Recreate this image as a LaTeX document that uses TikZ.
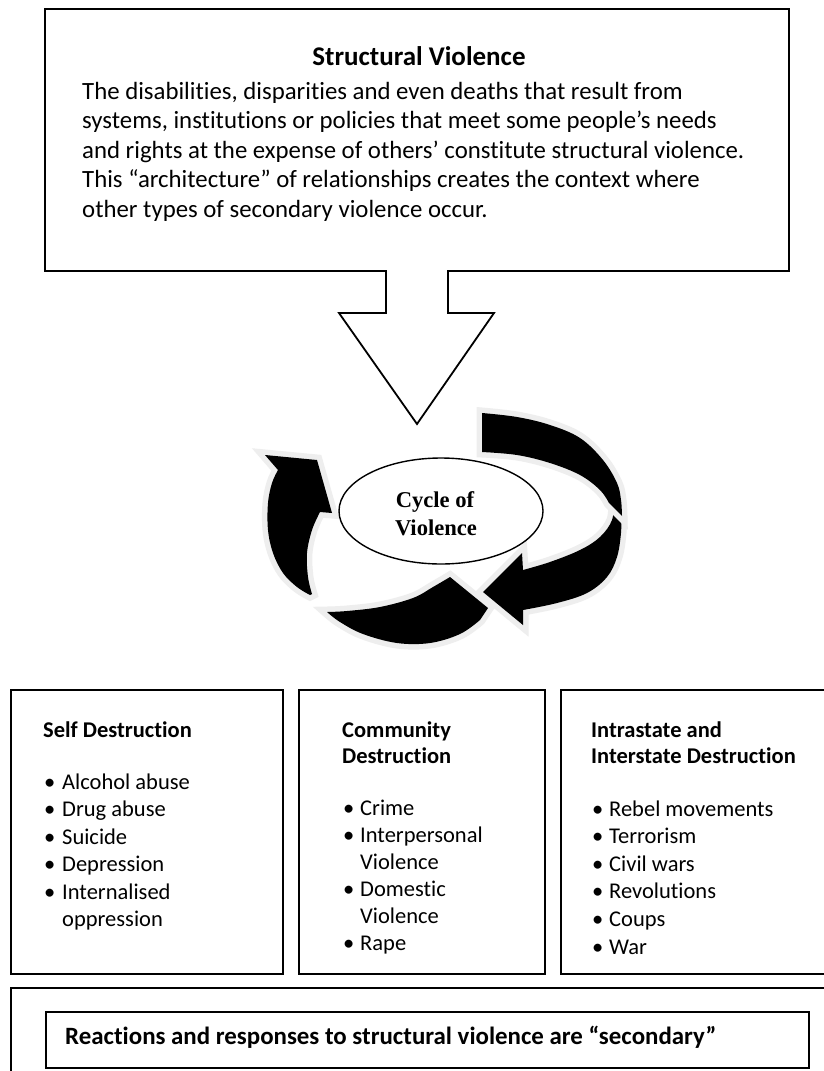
\documentclass[tikz,border=0pt]{standalone}
\usepackage{fontspec}
\setmainfont{Carlito}[Ligatures=NoCommon]
\newfontfamily\tnr{Liberation Serif}
\usetikzlibrary{shapes.geometric}
\definecolor{rim}{RGB}{238,238,238}

\tikzset{
  frame/.style={draw=black, line width=2pt},
  callout/.style={draw=black, line width=1.8pt, line join=miter},
  arrowpart/.style={preaction={draw=rim, line width=11pt, line join=miter, miter limit=4}, fill=black},
  hubnode/.style={ellipse, draw=black, fill=white, line width=1.4pt,
                  minimum width=204pt, minimum height=106pt, inner sep=0pt},
  bodytext/.style={anchor=base west, inner sep=0pt, font=\fontsize{24.8}{29.5}\selectfont},
  headtext/.style={anchor=base, inner sep=0pt, font=\fontsize{27}{32}\selectfont\bfseries},
  boxtitle/.style={anchor=base west, inner sep=0pt, font=\fontsize{22.5}{27}\selectfont\bfseries},
  item/.style={anchor=base west, inner sep=0pt, font=\fontsize{22.5}{27}\selectfont},
  notetext/.style={anchor=base west, inner sep=0pt, font=\fontsize{24.9}{30}\selectfont\bfseries},
  hubtext/.style={anchor=base, inner sep=0pt, font=\fontsize{22.6}{28}\selectfont\tnr\bfseries},
}

\begin{document}
\begin{tikzpicture}[x=1pt, y=-1pt]
\clip (0,0) rectangle (824,1071);
\fill[white] (0,0) rectangle (824,1071);

% ---------- structural violence callout with its down arrow ----------
\coordinate (cTL) at (45,9);
\coordinate (cTR) at (789,9);
\coordinate (cBR) at (789,271);
\coordinate (cBL) at (45,271);
\coordinate (nR) at (448,271);
\coordinate (nL) at (386,271);
\coordinate (sR) at (448,313);
\coordinate (sL) at (386,313);
\coordinate (hR) at (494,313);
\coordinate (hL) at (339,313);
\coordinate (tip) at (417,424);
\draw[callout] (cTL) -- (cTR) -- (cBR) -- (nR) -- (sR) -- (hR) -- (tip)
  -- (hL) -- (sL) -- (nL) -- (cBL) -- cycle;

\node[headtext] (svtitle) at (419,65) {Structural Violence};
\node[bodytext] (sv1) at (82,99)    {The disabilities, disparities and even deaths that result from};
\node[bodytext] (sv2) at (82,128.5) {systems, institutions or policies that meet some people’s needs};
\node[bodytext] (sv3) at (82,158)   {and rights at the expense of others’ constitute structural violence.};
\node[bodytext] (sv4) at (82,187.5) {This “architecture” of relationships creates the context where};
\node[bodytext] (sv5) at (82,217)   {other types of secondary violence occur.};

% ---------- cycle of three curved arrows ----------
% left arrow, rising towards the upper left
\path[arrowpart] (265,455) -- (317,460) -- (332,513) -- (320,512)
  -- plot[smooth, tension=0.6] coordinates {(320,512) (312,530) (307,553) (308,577) (312,594)}
  -- plot[smooth, tension=0.6] coordinates {(310,595) (297,587) (283,573) (273,553) (268,530) (268,503) (272,483) (278,470)}
  -- cycle;
% bottom arrow
\path[arrowpart] plot[smooth, tension=0.6] coordinates {(327,612) (347,611) (380,607) (413,598) (433,587) (450,577)}
  -- (488,608)
  -- plot[smooth, tension=0.6] coordinates {(480,620) (460,634) (430,643) (397,643) (363,634) (340,622) (327,612)}
  -- cycle;
% right arrow, lower part with its head
\path[arrowpart] plot[smooth, tension=0.6] coordinates {(620,500) (621,516) (621,533) (617,557) (607,577) (587,593) (557,603) (523,610)}
  -- (523,625) -- (483,592) -- (522,553) -- (523,570)
  -- plot[smooth, tension=0.6] coordinates {(523,570) (550,562) (580,550) (600,537) (612,520) (614,500)}
  -- cycle;
% right arrow, upper part with its tail
\path[arrowpart] (482,413)
  -- plot[smooth, tension=0.6] coordinates {(482,413) (517,417) (550,425) (580,438) (603,460) (617,483) (621,500) (622,516)}
  -- (609,503)
  -- plot[smooth, tension=0.6] coordinates {(609,503) (600,490) (580,475) (550,463) (517,455) (482,452)}
  -- cycle;

\node[hubnode] (hub) at (441,511) {};
\node[hubtext] (hub1) at (435,507) {Cycle of};
\node[hubtext] (hub2) at (436,535) {Violence};

% ---------- three kinds of destruction ----------
\node[frame, anchor=north west, minimum width=272pt, minimum height=284pt, inner sep=0pt] (selfbox) at (10,689) {};
\node[frame, anchor=north west, minimum width=246pt, minimum height=284pt, inner sep=0pt] (commbox) at (298,689) {};
\node[frame, anchor=north west, minimum width=280pt, minimum height=284pt, inner sep=0pt] (statebox) at (560,689) {};

% self destruction
\node[boxtitle] (st) at (43,737) {Self Destruction};
\node[item] (sb1) at (44,789)   {•};  \node[item] (si1) at (62,789)   {Alcohol abuse};
\node[item] (sb2) at (44,816.5) {•};  \node[item] (si2) at (62,816.5) {Drug abuse};
\node[item] (sb3) at (44,844)   {•};  \node[item] (si3) at (62,844)   {Suicide};
\node[item] (sb4) at (44,871.5) {•};  \node[item] (si4) at (62,871.5) {Depression};
\node[item] (sb5) at (44,899)   {•};  \node[item] (si5) at (62,899)   {Internalised};
\node[item] (si6) at (62,926) {oppression};

% community destruction
\node[boxtitle] (ct1) at (342,737) {Community};
\node[boxtitle] (ct2) at (342,763) {Destruction};
\node[item] (cb1) at (343,815) {•};  \node[item] (ci1) at (360,815) {Crime};
\node[item] (cb2) at (343,842) {•};  \node[item] (ci2) at (360,842) {Interpersonal};
\node[item] (ci3) at (360,869) {Violence};
\node[item] (cb4) at (343,896) {•};  \node[item] (ci4) at (360,896) {Domestic};
\node[item] (ci5) at (360,923) {Violence};
\node[item] (cb6) at (343,950) {•};  \node[item] (ci6) at (360,950) {Rape};

% intrastate and interstate destruction
\node[boxtitle] (it1) at (591,737) {Intrastate and};
\node[boxtitle] (it2) at (591,763) {Interstate Destruction};
\node[item] (ib1) at (592,816)   {•};  \node[item] (ii1) at (609,816)   {Rebel movements};
\node[item] (ib2) at (592,843.6) {•};  \node[item] (ii2) at (609,843.6) {Terrorism};
\node[item] (ib3) at (592,871.2) {•};  \node[item] (ii3) at (609,871.2) {Civil wars};
\node[item] (ib4) at (592,898.8) {•};  \node[item] (ii4) at (609,898.8) {Revolutions};
\node[item] (ib5) at (592,926.4) {•};  \node[item] (ii5) at (609,926.4) {Coups};
\node[item] (ib6) at (592,954)   {•};  \node[item] (ii6) at (609,954)   {War};

% ---------- secondary reactions ----------
\node[frame, anchor=north west, minimum width=830pt, minimum height=100pt, inner sep=0pt] (outerbox) at (10,987) {};
\node[frame, anchor=north west, minimum width=763pt, minimum height=56pt, inner sep=0pt] (innerbox) at (45,1011) {};
\node[notetext] (react) at (65,1044) {Reactions and responses to structural violence are “secondary”};
\end{tikzpicture}
\end{document}
